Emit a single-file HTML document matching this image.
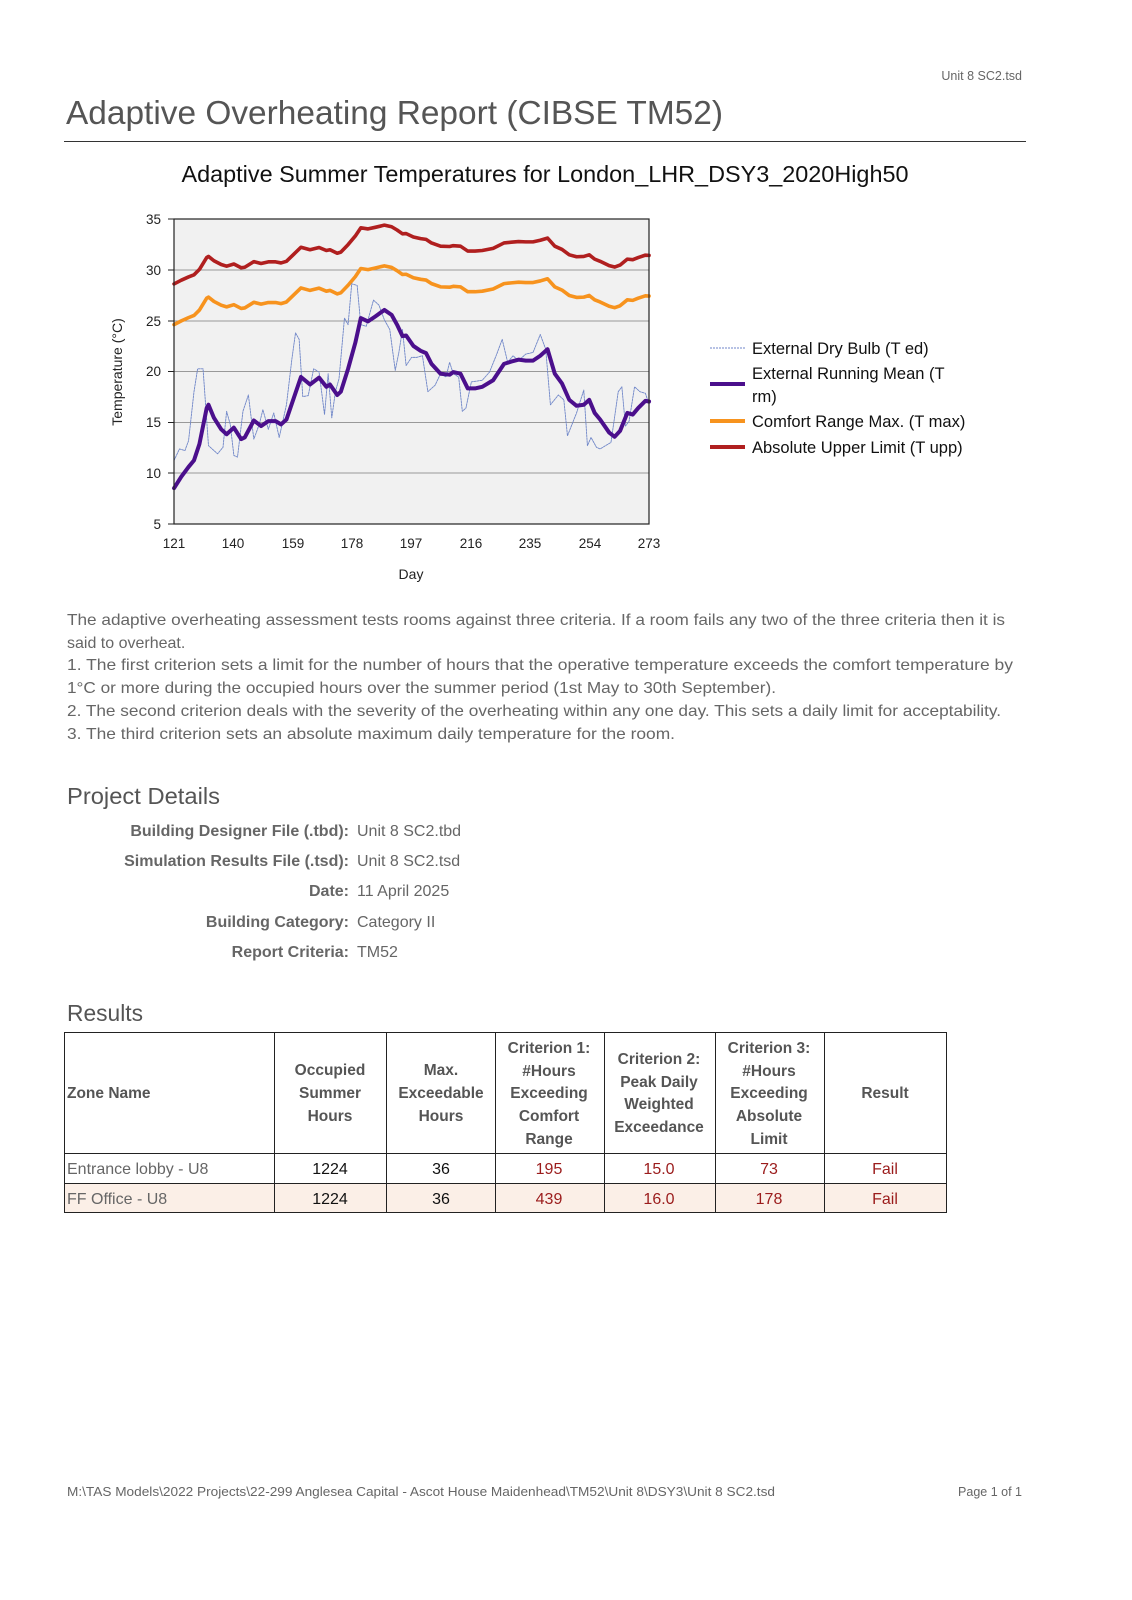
<!DOCTYPE html>
<html><head><meta charset="utf-8"><style>
html,body{margin:0;padding:0;background:#fff;}
svg{display:block;}
</style></head><body>
<svg id="s" width="1132" height="1600" viewBox="0 0 1132 1600" xmlns="http://www.w3.org/2000/svg" font-family="Liberation Sans, sans-serif">
<rect width="1132" height="1600" fill="#fff"/>
<text x="1022" y="80" font-size="12.5" fill="#666" text-anchor="end">Unit 8 SC2.tsd</text>
<text x="66" y="124" font-size="33" fill="#555" textLength="657" lengthAdjust="spacingAndGlyphs">Adaptive Overheating Report (CIBSE TM52)</text>
<line x1="64" y1="141.5" x2="1026" y2="141.5" stroke="#333" stroke-width="1"/>

<text x="545" y="182" font-size="23" fill="#111" text-anchor="middle" textLength="727" lengthAdjust="spacingAndGlyphs">Adaptive Summer Temperatures for London_LHR_DSY3_2020High50</text>

<rect x="174" y="219" width="475" height="305" fill="#f1f1f1"/>
<g stroke="#999" stroke-width="1">
<line x1="174" y1="270" x2="649" y2="270"/><line x1="174" y1="321" x2="649" y2="321"/>
<line x1="174" y1="371.5" x2="649" y2="371.5"/><line x1="174" y1="422.5" x2="649" y2="422.5"/>
<line x1="174" y1="473" x2="649" y2="473"/>
</g>
<g id="series" transform="matrix(0.3626 0 0 0.327 97.9 195.5)" fill="none" stroke-linejoin="round" stroke-linecap="round"></g>
<rect x="174" y="219" width="475" height="305" fill="none" stroke="#222" stroke-width="1.2"/>
<g font-size="13.5" fill="#222" text-anchor="end">
<text x="161" y="224">35</text><text x="161" y="275">30</text><text x="161" y="326">25</text>
<text x="161" y="376">20</text><text x="161" y="427">15</text><text x="161" y="478">10</text><text x="161" y="529">5</text>
</g>
<g stroke="#222"><line x1="168" y1="219" x2="174" y2="219"/><line x1="168" y1="270" x2="174" y2="270"/><line x1="168" y1="321" x2="174" y2="321"/><line x1="168" y1="371.5" x2="174" y2="371.5"/><line x1="168" y1="422.5" x2="174" y2="422.5"/><line x1="168" y1="473" x2="174" y2="473"/><line x1="168" y1="524" x2="174" y2="524"/></g>
<g font-size="13.5" fill="#222" text-anchor="middle">
<text x="174" y="548">121</text><text x="233" y="548">140</text><text x="293" y="548">159</text><text x="352" y="548">178</text><text x="411" y="548">197</text><text x="471" y="548">216</text><text x="530" y="548">235</text><text x="590" y="548">254</text><text x="649" y="548">273</text>
</g>
<text x="411" y="579" font-size="14" fill="#222" text-anchor="middle">Day</text>
<text transform="translate(122,372) rotate(-90)" font-size="14" fill="#222" text-anchor="middle">Temperature (°C)</text>

<line x1="710" y1="348" x2="745" y2="348" stroke="#6f86c8" stroke-width="1" stroke-dasharray="2,1"/>
<line x1="710" y1="384" x2="745" y2="384" stroke="#4b0f8c" stroke-width="4"/>
<line x1="710" y1="421" x2="745" y2="421" stroke="#f7931e" stroke-width="4"/>
<line x1="710" y1="447" x2="745" y2="447" stroke="#b01f1f" stroke-width="4"/>
<g font-size="16.5" fill="#111">
<text x="752" y="354">External Dry Bulb (T ed)</text>
<text x="752" y="379">External Running Mean (T</text>
<text x="752" y="402">rm)</text>
<text x="752" y="427">Comfort Range Max. (T max)</text>
<text x="752" y="453">Absolute Upper Limit (T upp)</text>
</g>

<g font-size="16" fill="#666">
<text x="67" y="625" textLength="938" lengthAdjust="spacingAndGlyphs">The adaptive overheating assessment tests rooms against three criteria. If a room fails any two of the three criteria then it is</text>
<text x="67" y="648">said to overheat.</text>
<text x="67" y="670" textLength="946" lengthAdjust="spacingAndGlyphs">1. The first criterion sets a limit for the number of hours that the operative temperature exceeds the comfort temperature by</text>
<text x="67" y="693" textLength="709" lengthAdjust="spacingAndGlyphs">1°C or more during the occupied hours over the summer period (1st May to 30th September).</text>
<text x="67" y="716" textLength="934" lengthAdjust="spacingAndGlyphs">2. The second criterion deals with the severity of the overheating within any one day. This sets a daily limit for acceptability.</text>
<text x="67" y="739" textLength="608" lengthAdjust="spacingAndGlyphs">3. The third criterion sets an absolute maximum daily temperature for the room.</text>
</g>
<text x="67" y="804" font-size="23" fill="#555" textLength="153" lengthAdjust="spacingAndGlyphs">Project Details</text>
<g font-size="16" fill="#666">
<g font-weight="bold" text-anchor="end">
<text x="349" y="836">Building Designer File (.tbd):</text>
<text x="349" y="866">Simulation Results File (.tsd):</text>
<text x="349" y="896">Date:</text>
<text x="349" y="927">Building Category:</text>
<text x="349" y="957">Report Criteria:</text>
</g>
<text x="357" y="836">Unit 8 SC2.tbd</text>
<text x="357" y="866">Unit 8 SC2.tsd</text>
<text x="357" y="896">11 April 2025</text>
<text x="357" y="927">Category II</text>
<text x="357" y="957">TM52</text>
</g>
<text x="67" y="1021" font-size="23" fill="#555" textLength="76" lengthAdjust="spacingAndGlyphs">Results</text>

<rect x="64" y="1183" width="883" height="30" fill="#fbefe7"/>
<g stroke="#222" stroke-width="1" fill="none">
<rect x="64.5" y="1032.5" width="882" height="180"/>
<line x1="64" y1="1153.5" x2="947" y2="1153.5"/><line x1="64" y1="1183.5" x2="947" y2="1183.5"/>
<line x1="274.5" y1="1032" x2="274.5" y2="1213"/><line x1="386.5" y1="1032" x2="386.5" y2="1213"/>
<line x1="495.5" y1="1032" x2="495.5" y2="1213"/><line x1="604.5" y1="1032" x2="604.5" y2="1213"/>
<line x1="715.5" y1="1032" x2="715.5" y2="1213"/><line x1="824.5" y1="1032" x2="824.5" y2="1213"/>
</g>
<g font-size="15.5" fill="#555" font-weight="bold" text-anchor="middle">
<text x="67" y="1098" text-anchor="start">Zone Name</text>
<text x="330" y="1075">Occupied</text><text x="330" y="1098">Summer</text><text x="330" y="1121">Hours</text>
<text x="441" y="1075">Max.</text><text x="441" y="1098">Exceedable</text><text x="441" y="1121">Hours</text>
<text x="549" y="1053">Criterion 1:</text><text x="549" y="1076">#Hours</text><text x="549" y="1098">Exceeding</text><text x="549" y="1121">Comfort</text><text x="549" y="1144">Range</text>
<text x="659" y="1064">Criterion 2:</text><text x="659" y="1087">Peak Daily</text><text x="659" y="1109">Weighted</text><text x="659" y="1132">Exceedance</text>
<text x="769" y="1053">Criterion 3:</text><text x="769" y="1076">#Hours</text><text x="769" y="1098">Exceeding</text><text x="769" y="1121">Absolute</text><text x="769" y="1144">Limit</text>
<text x="885" y="1098">Result</text>
</g>
<g font-size="16" text-anchor="middle">
<text x="67" y="1174" text-anchor="start" fill="#666">Entrance lobby - U8</text>
<text x="330" y="1174" fill="#111">1224</text><text x="441" y="1174" fill="#111">36</text>
<text x="549" y="1174" fill="#9b1c1c">195</text><text x="659" y="1174" fill="#9b1c1c">15.0</text><text x="769" y="1174" fill="#9b1c1c">73</text><text x="885" y="1174" fill="#9b1c1c">Fail</text>
<text x="67" y="1204" text-anchor="start" fill="#666">FF Office - U8</text>
<text x="330" y="1204" fill="#111">1224</text><text x="441" y="1204" fill="#111">36</text>
<text x="549" y="1204" fill="#9b1c1c">439</text><text x="659" y="1204" fill="#9b1c1c">16.0</text><text x="769" y="1204" fill="#9b1c1c">178</text><text x="885" y="1204" fill="#9b1c1c">Fail</text>
</g>

<text x="67" y="1496" font-size="12.5" fill="#666" textLength="708" lengthAdjust="spacingAndGlyphs">M:\TAS Models\2022 Projects\22-299 Anglesea Capital - Ascot House Maidenhead\TM52\Unit 8\DSY3\Unit 8 SC2.tsd</text>
<text x="1022" y="1496" font-size="12.5" fill="#666" text-anchor="end">Page 1 of 1</text>
</svg>
<script>
(function(){
var trm=[[210,895],[230,860],[250,830],[265,810],[280,760],[300,650],[305,640],[320,680],[340,715],[355,730],[375,710],[395,745],[405,740],[430,688],[450,705],[470,690],[490,690],[505,700],[520,685],[540,620],[560,555],[585,578],[610,557],[630,585],[640,578],[660,610],[670,600],[690,530],[710,450],[725,375],[745,385],[765,370],[790,350],[810,365],[825,395],[840,430],[850,428],[870,460],[890,475],[905,482],[920,515],[945,545],[970,548],[980,540],[1000,545],[1020,590],[1040,590],[1060,585],[1090,565],[1120,515],[1140,508],[1160,502],[1180,505],[1200,505],[1220,490],[1240,470],[1260,545],[1280,575],[1300,625],[1320,643],[1340,640],[1355,625],[1370,665],[1385,685],[1410,725],[1425,738],[1440,720],[1460,665],[1475,670],[1490,650],[1510,628],[1520,630]];
var ted=[[210,810],[225,775],[240,780],[250,750],[265,600],[275,530],[290,530],[305,765],[320,780],[330,790],[345,770],[355,660],[365,700],[375,795],[385,800],[400,660],[415,610],[430,745],[445,700],[455,655],[470,715],[485,665],[500,740],[520,640],[535,500],[545,420],[555,440],[565,615],[580,612],[595,530],[610,540],[625,670],[635,545],[645,680],[655,600],[665,560],[680,375],[690,395],[700,270],[715,275],[725,395],[740,400],[760,320],[775,335],[790,380],[805,410],[820,535],[830,480],[840,410],[850,520],[865,495],[880,495],[895,490],[910,600],[930,580],[945,545],[960,555],[970,510],[980,545],[995,555],[1005,660],[1015,650],[1030,570],[1060,565],[1080,540],[1100,485],[1115,440],[1130,510],[1145,490],[1160,505],[1180,485],[1200,480],[1220,425],[1235,470],[1248,640],[1270,610],[1285,625],[1295,735],[1320,665],[1340,595],[1350,765],[1360,740],[1375,770],[1385,775],[1400,765],[1415,755],[1435,600],[1445,585],[1455,705],[1465,690],[1480,585],[1495,600],[1510,605],[1520,640]];
function toT(y){return 35-(y-72)/31.1;} function toY(t){return 72+(35-t)*31.1;}
function pts(a,f){return a.map(function(p){return p[0]+','+(f?toY(f(toT(p[1]))):p[1]).toFixed(1);}).join(' ');}
var g=document.getElementById('series'),ns='http://www.w3.org/2000/svg';
function add(p,c,w,d){var e=document.createElementNS(ns,'polyline');e.setAttribute('points',p);e.setAttribute('stroke',c);e.setAttribute('stroke-width',w);e.setAttribute('vector-effect','non-scaling-stroke');if(d)e.setAttribute('stroke-dasharray',d);g.appendChild(e);}
add(pts(trm,function(t){return 0.33*t+25.8;}),'#b01f1f',3.6);
add(pts(trm,function(t){return 0.33*t+21.8;}),'#f7931e',3.6);
add(pts(ted),'#6f86c8',0.9,'2,1');
add(pts(trm),'#4b0f8c',4);
})();
</script>
</body></html>
